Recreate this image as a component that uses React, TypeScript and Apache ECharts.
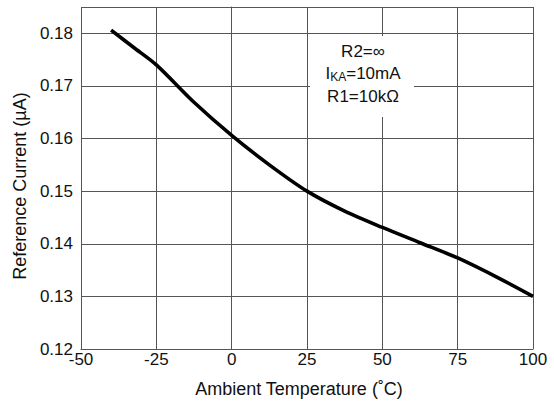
import React, { useEffect, useRef } from "react";
import * as echarts from "echarts";

const temperatures = [-40, -32.5, -25, -12.5, 0, 12.5, 25, 37.5, 50, 62.5, 75, 87.5, 100];
const currents = [0.1806, 0.1773, 0.174, 0.1669, 0.1606, 0.155, 0.15, 0.1462, 0.1431, 0.1402, 0.1373, 0.1338, 0.13];
const xTicks = [-50, -25, 0, 25, 50, 75, 100];
const yTicks = [0.12, 0.13, 0.14, 0.15, 0.16, 0.17, 0.18];
const noteLines = ["R2=\u221e", "IKA=10mA", "R1=10k\u03a9"];

const FONT = "Liberation Sans, Arial, sans-serif";
const GRID = "#555555";

export default function App() {
  const ref = useRef<HTMLDivElement>(null);
  useEffect(() => {
    if (!ref.current) return;
    const chart = echarts.init(ref.current, null, { renderer: "svg" });
    const data = temperatures.map((t, i) => [t, currents[i]]);
    chart.setOption({
      animation: false,
      backgroundColor: "#ffffff",
      textStyle: { fontFamily: FONT },
      grid: { left: 81, top: 7, right: 21, bottom: 56 },
      xAxis: {
        type: "value",
        min: -50,
        max: 100,
        interval: 25,
        name: "Ambient Temperature (\u02daC)",
        nameLocation: "middle",
        nameGap: 31,
        nameTextStyle: { fontSize: 18, color: "#111", fontFamily: FONT, padding: [0, 16, 0, 0] },
        axisLine: { show: true, lineStyle: { color: GRID, width: 1 } },
        axisTick: { show: false },
        axisLabel: {
          fontSize: 17,
          color: "#111",
          margin: 2,
          fontFamily: FONT,
          formatter: (v: number) => (xTicks.includes(v) ? String(v) : ""),
        },
        splitLine: { show: true, lineStyle: { color: GRID, width: 1 } },
      },
      yAxis: {
        type: "value",
        min: 0.12,
        max: 0.185,
        interval: 0.01,
        name: "Reference Current (\u00b5A)",
        nameLocation: "middle",
        nameGap: 51,
        nameTextStyle: { fontSize: 18, color: "#111", fontFamily: FONT, padding: [0, 16, 0, 0] },
        axisLine: { show: true, lineStyle: { color: GRID, width: 1 } },
        axisTick: { show: false },
        axisLabel: {
          fontSize: 17,
          color: "#111",
          margin: 8,
          fontFamily: FONT,
          showMaxLabel: false,
          formatter: (v: number) => {
            const r = Math.round(v * 100) / 100;
            return yTicks.some((t) => Math.abs(t - v) < 1e-6) ? r.toFixed(2) : "";
          },
        },
        splitLine: { show: true, lineStyle: { color: GRID, width: 1 } },
      },
      series: [
        {
          type: "line",
          data,
          smooth: 0.3,
          showSymbol: false,
          lineStyle: { color: "#000", width: 3.6 },
          z: 5,
        },
      ],
      graphic: [
        {
          type: "rect",
          shape: { x: 310, y: 36, width: 104, height: 81 },
          style: { fill: "#fff" },
          z: 10,
        },
        {
          type: "text",
          x: 363,
          y: 51,
          z: 11,
          style: {
            text: noteLines[0],
            fontSize: 17,
            fontFamily: FONT,
            fill: "#111",
            align: "center",
            verticalAlign: "middle",
          },
        },
        {
          type: "text",
          x: 363,
          y: 73,
          z: 11,
          style: {
            text: "{n|" + noteLines[1].slice(0, 1) + "}{s|" + noteLines[1].slice(1, 3) + "}{n|" + noteLines[1].slice(3) + "}",
            fontFamily: FONT,
            fill: "#111",
            align: "center",
            verticalAlign: "middle",
            rich: {
              n: { fontSize: 17, fontFamily: FONT, fill: "#111", lineHeight: 20 },
              s: { fontSize: 12, fontFamily: FONT, fill: "#111", lineHeight: 20, verticalAlign: "bottom", padding: [6, 0, 0, 0] },
            },
          },
        },
        {
          type: "text",
          x: 363,
          y: 96,
          z: 11,
          style: {
            text: noteLines[2],
            fontSize: 17,
            fontFamily: FONT,
            fill: "#111",
            align: "center",
            verticalAlign: "middle",
          },
        },
      ],
    });
    return () => chart.dispose();
  }, []);
  return <div ref={ref} style={{ width: 554, height: 405, position: "absolute", left: 0, top: 0 }} />;
}
